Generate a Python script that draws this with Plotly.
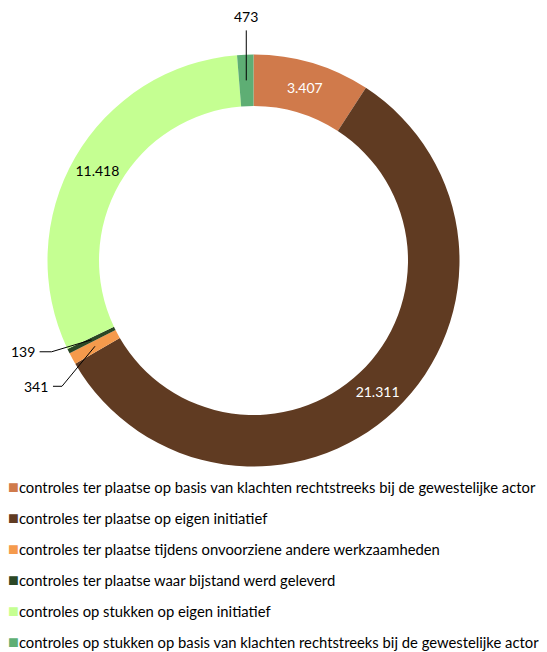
import math
import plotly.graph_objects as go

W, H = 547, 652
OFF = 8  # standaard body-marge van de pagina
FW, FH = W - OFF, H - OFF

categorieen = [
    "controles ter plaatse op basis van klachten rechtstreeks bij de gewestelijke actor",
    "controles ter plaatse op eigen initiatief",
    "controles ter plaatse tijdens onvoorziene andere werkzaamheden",
    "controles ter plaatse waar bijstand werd geleverd",
    "controles op stukken op eigen initiatief",
    "controles op stukken op basis van klachten rechtstreeks bij de gewestelijke actor",
]
aantallen = [3407, 21311, 341, 139, 11418, 473]
kleuren = ["#D07A4B", "#603B22", "#F59A4C", "#2B4725", "#C5FF92", "#5EAE74"]

# geometrie van de ring (pixels binnen de figuur)
cx, cy, r_out, gat = 253.5 - OFF, 260.5 - OFF, 206, 0.75
r_mid = r_out * (1 + gat) / 2
FONT = "Lato"


def fmt(v):
    return f"{v:,}".replace(",", ".")


def papier(x, y):
    return x / FW, 1 - y / FH


binnen = [True, True, False, False, True, False]
tekstkleur = ["white", "white", "black", "black", "black", "black"]

fig = go.Figure()
fig.add_trace(go.Pie(
    values=aantallen, labels=categorieen, sort=False, direction="clockwise", rotation=0,
    hole=gat, marker=dict(colors=kleuren, line=dict(width=0)),
    text=[fmt(v) if b else "" for v, b in zip(aantallen, binnen)],
    textinfo="text", textposition=["inside" if b else "none" for b in binnen],
    insidetextorientation="horizontal",
    textfont=dict(family=FONT, size=14, color=tekstkleur),
    domain=dict(x=[(cx - r_out) / FW, (cx + r_out) / FW], y=[1 - (cy + r_out) / FH, 1 - (cy - r_out) / FH]),
    showlegend=False, hoverinfo="label+value",
))

# legenda via lege traces; het gekleurde blokje staat in de tekst
for naam, kleur in zip(categorieen, kleuren):
    fig.add_trace(go.Scatter(
        x=[None], y=[None], mode="markers", legendgroup=naam,
        name=f"<span style='color:{kleur};font-size:18px'>■</span>{naam}",
        marker=dict(symbol="square", size=1, color="rgba(0,0,0,0)")))

# labels buiten de ring voor kleine segmenten (pixel-offsets: knik en label)
totaal = sum(aantallen)
buiten = {5: [(0, -50), (0, -53)], 3: [(-40, 12), (-52, 12)], 2: [(-33, 40), (-42, 40)]}
cum = 0
for i, v in enumerate(aantallen):
    mid = (cum + v / 2) / totaal * 2 * math.pi
    cum += v
    if i not in buiten:
        continue
    px_ = cx + r_mid * math.sin(mid)
    py_ = cy - r_mid * math.cos(mid)
    (kx, ky), (lx, ly) = buiten[i]
    p0 = papier(px_, py_)
    p1 = papier(px_ + kx, py_ + ky)
    p2 = papier(px_ + lx, py_ + ly)
    fig.add_shape(type="path", xref="paper", yref="paper",
                  path=f"M {p0[0]} {p0[1]} L {p1[0]} {p1[1]}" + ("" if i == 5 else f" L {p2[0]} {p2[1]}"),
                  line=dict(color="black", width=1))
    if i == 5:
        fig.add_annotation(x=p2[0], y=p2[1], xref="paper", yref="paper", text=fmt(v),
                           showarrow=False, xanchor="center", yanchor="bottom",
                           font=dict(family=FONT, size=14, color="black"))
    else:
        fig.add_annotation(x=p2[0], y=p2[1], xref="paper", yref="paper", text=fmt(v),
                           showarrow=False, xanchor="right", yanchor="middle", xshift=-3,
                           font=dict(family=FONT, size=14, color="black"))

fig.update_layout(
    width=FW, height=FH, margin=dict(l=0, r=0, t=0, b=0, autoexpand=False),
    paper_bgcolor="white", plot_bgcolor="white",
    xaxis=dict(visible=False), yaxis=dict(visible=False),
    showlegend=True,
    legend=dict(x=-40 / FW, y=1 - 463 / FH, xanchor="left", yanchor="top", tracegroupgap=8.7,
                itemwidth=30, font=dict(family=FONT, size=14.8, color="black"),
                bgcolor="rgba(0,0,0,0)"),
)
fig.write_html("out.html")
